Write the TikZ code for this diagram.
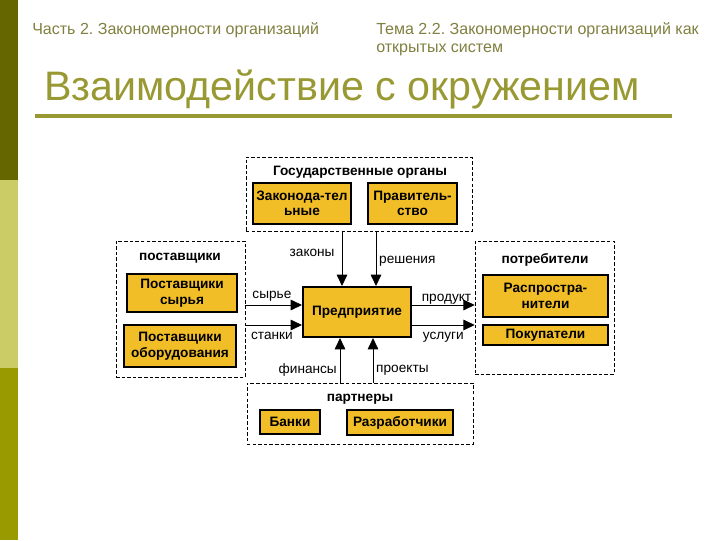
\documentclass[tikz,border=0pt]{standalone}
\usepackage{fontspec}
\setmainfont{Liberation Sans}
\usepackage{tikz}
\usetikzlibrary{arrows.meta,calc}
\frenchspacing
\definecolor{barDark}{RGB}{102,102,0}
\definecolor{barLight}{RGB}{204,204,102}
\definecolor{barMid}{RGB}{153,153,0}
\definecolor{headGray}{RGB}{128,128,64}
\definecolor{titleOlive}{RGB}{153,153,51}
\definecolor{boxYellow}{RGB}{242,190,40}
\newcommand{\envfont}{\fontsize{9.7}{11}\selectfont}
\tikzset{
  envGroup/.style={draw, dash pattern=on 2.5pt off 1.5pt, thin, inner sep=0pt},
  envGroupTitle/.style={font=\envfont\bfseries, inner sep=1pt},
  envItem/.style={draw, line width=2pt, fill=boxYellow, align=center, font=\envfont\bfseries, inner sep=1pt},
  envCore/.style={draw, line width=1.5pt, fill=boxYellow, align=center, font=\envfont\bfseries},
  envArrow/.style={-{Triangle[length=8pt,width=7.5pt]}, semithick},
  envLabel/.style={font=\envfont, inner sep=2pt}
}

\begin{document}
\begin{tikzpicture}[
        x=0.025cm, y=-0.025cm,
        slideHead/.style={font=\fontsize{11.4}{13}\selectfont, text=headGray, inner sep=0pt, align=left},
        slideTitle/.style={font=\fontsize{29.3}{33}\selectfont, text=titleOlive, inner sep=0pt}
      ]
      \useasboundingbox[fill=white] (0,0) rectangle (720,540);
      \fill[barDark] (0,0) rectangle (18,180);
      \fill[barLight] (0,180) rectangle (18,368);
      \fill[barMid] (0,368) rectangle (18,540);
      \node[slideHead, anchor=west] (part) at (32,30) {Часть 2. Закономерности организаций};
      \node[slideHead, anchor=north west] (topic) at (376,22) {Тема 2.2. Закономерности организаций как\\открытых систем};
      \node[slideTitle, anchor=west] (title) at (44,89) {Взаимодействие с окружением};
      \draw[titleOlive, line width=2.5pt] (35,116) -- (672,116);

      \node[envGroup, minimum width=5.65cm, minimum height=1.85cm] (gov) at (359,194) {};
      \node[envGroupTitle] (govTitle) at (360,172) {Государственные органы};
      \node[envItem, minimum width=2.45cm, minimum height=1.025cm] (legis) at (302,203.5) {Законода-тел\\ьные};
      \node[envItem, minimum width=2.225cm, minimum height=1.025cm] (cabinet) at (412.5,203.5) {Правитель-\\ство};

      \node[envGroup, minimum width=3.225cm, minimum height=3.4cm] (sup) at (180.5,309) {};
      \node[envGroupTitle] (supTitle) at (180,258) {поставщики};
      \node[envItem, minimum width=2.75cm, minimum height=0.95cm] (rawSup) at (182,293) {Поставщики\\сырья};
      \node[envItem, minimum width=2.8cm, minimum height=1.05cm] (eqSup) at (180,346) {Поставщики\\оборудования};

      \node[envGroup, minimum width=3.475cm, minimum height=3.325cm] (con) at (544.5,307.5) {};
      \node[envGroupTitle] (conTitle) at (545,260) {потребители};
      \node[envItem, minimum width=3.125cm, minimum height=1.05cm] (dist) at (545.5,296) {Распростра-\\нители};
      \node[envItem, minimum width=3.125cm, minimum height=0.5cm, inner sep=0pt] (buyers) at (545.5,335) {Покупатели};

      \node[envGroup, minimum width=5.65cm, minimum height=1.525cm] (par) at (360,413.5) {};
      \node[envGroupTitle] (parTitle) at (360,399) {партнеры};
      \node[envItem, minimum width=1.5cm, minimum height=0.6cm] (banks) at (290,422) {Банки};
      \node[envItem, minimum width=2.65cm, minimum height=0.625cm] (devs) at (400,422.5) {Разработчики};

      \node[envCore, minimum width=2.7cm, minimum height=1.25cm] (ent) at (357,312) {Предприятие};

      \coordinate (lawsIn) at ($(ent.north)+(-15,0)$);
      \coordinate (decIn) at ($(ent.north)+(19,0)$);
      \coordinate (rawIn) at ($(ent.west)+(0,-7)$);
      \coordinate (toolIn) at ($(ent.west)+(0,13)$);
      \coordinate (prodOut) at ($(ent.east)+(0,-7)$);
      \coordinate (servOut) at ($(ent.east)+(0,13)$);
      \coordinate (finIn) at ($(ent.south)+(-17,0)$);
      \coordinate (projIn) at ($(ent.south)+(16,0)$);

      \draw[envArrow] (lawsIn |- gov.south) -- node[envLabel, left, pos=0.4, xshift=-3pt] {законы} (lawsIn);
      \draw[envArrow] (decIn |- gov.south) -- node[envLabel, right, pos=0.54] {решения} (decIn);
      \draw[envArrow] (sup.east |- rawIn) -- node[envLabel, above, pos=0.47] {сырье} (rawIn);
      \draw[envArrow] (sup.east |- toolIn) -- node[envLabel, below, pos=0.47, yshift=-3pt] {станки} (toolIn);
      \draw[envArrow] (prodOut) -- node[envLabel, above, pos=0.55, inner sep=0.5pt] {продукт} (prodOut -| con.west);
      \draw[envArrow] (servOut) -- node[envLabel, below, pos=0.5, yshift=-3pt] {услуги} (servOut -| con.west);
      \draw[envArrow] (finIn |- par.north) -- node[envLabel, left, pos=0.28] {финансы} (finIn);
      \draw[envArrow] (projIn |- par.north) -- node[envLabel, right, pos=0.28] {проекты} (projIn);
    \end{tikzpicture}
\end{document}
